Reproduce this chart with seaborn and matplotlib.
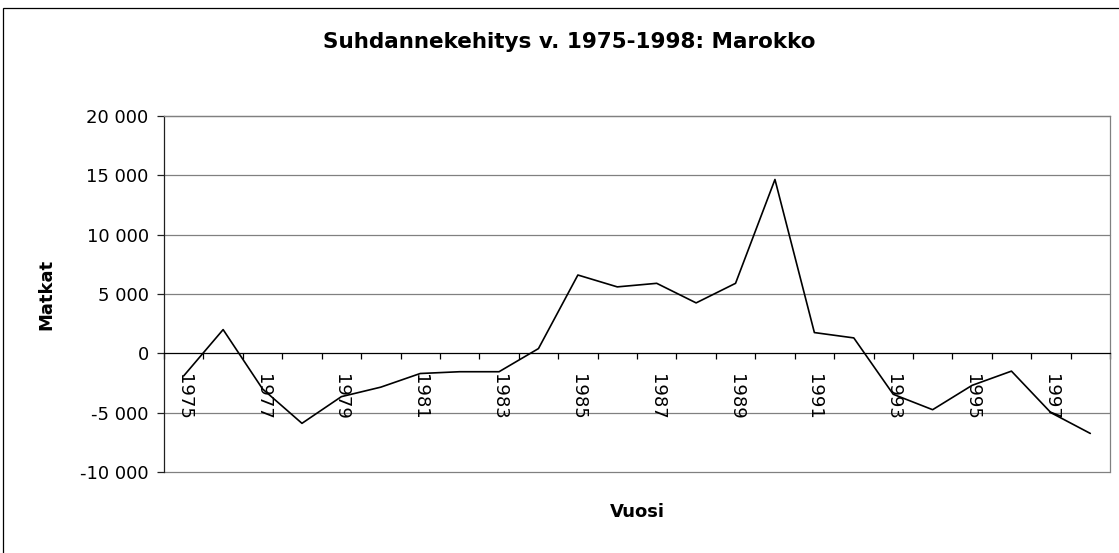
import matplotlib
import matplotlib.pyplot as plt
import seaborn as sns
from matplotlib.patches import Rectangle
from matplotlib.ticker import FixedLocator, FuncFormatter

matplotlib.use("Agg")

YEARS = list(range(1975, 1999))
MATKAT = [
    -1900, 2000, -3000, -5900, -3650, -2850, -1700, -1550, -1550, 400,
    6600, 5600, 5900, 4250, 5900, 14650, 1750, 1300, -3450, -4750,
    -2700, -1500, -5000, -6750,
]
Y_TICKS = [-10000, -5000, 0, 5000, 10000, 15000, 20000]

sns.set_style("white")
plt.rcParams["font.family"] = ["DejaVu Sans"]
plt.rcParams["text.color"] = "black"
plt.rcParams["xtick.color"] = "black"
plt.rcParams["ytick.color"] = "black"

W, H = 1119, 553
fig = plt.figure(figsize=(W / 100, H / 100), dpi=100)
ax = fig.add_axes([164 / W, 1 - 472 / H, (1110 - 164) / W, (472 - 116) / H])

pos = list(range(len(YEARS)))
sns.lineplot(x=pos, y=MATKAT, ax=ax, color="black", linewidth=1.2)

ax.set_xlim(-0.5, len(YEARS) - 0.5)
ax.set_ylim(Y_TICKS[0], Y_TICKS[-1])

# horizontal grid
ax.set_yticks(Y_TICKS)
ax.yaxis.set_major_formatter(FuncFormatter(lambda v, _: f"{v:,.0f}".replace(",", " ")))
for v in Y_TICKS:
    if v != 0:
        ax.axhline(v, color="#808080", linewidth=0.9, zorder=0, clip_on=False)

# category axis sits on the zero line
ax.spines["bottom"].set_position(("data", 0))
ax.spines["bottom"].set_color("black")
ax.spines["bottom"].set_linewidth(0.9)
ax.spines["left"].set_color("#202020")
ax.spines["left"].set_linewidth(0.9)
for s in ("top", "right"):
    ax.spines[s].set_color("#808080")
    ax.spines[s].set_linewidth(0.9)

ax.xaxis.set_major_locator(FixedLocator(pos[::2]))
ax.set_xticklabels([str(y) for y in YEARS[::2]])
ax.xaxis.set_minor_locator(FixedLocator([p - 0.5 for p in pos] + [pos[-1] + 0.5]))
ax.tick_params(axis="x", which="major", length=0, pad=15, labelsize=13,
               labelrotation=270, labelcolor="black")
ax.tick_params(axis="x", which="minor", length=4, width=0.9, direction="out",
               color="black", bottom=True)
for lab in ax.get_xticklabels():
    lab.set_va("top")
    lab.set_ha("center")
ax.tick_params(axis="y", length=5, width=0.9, direction="out", pad=6,
               labelsize=13, left=True, color="#202020", labelcolor="black")
ax.set_xlabel("")
ax.set_ylabel("")

fig.text(569 / W, 1 - 42 / H, "Suhdannekehitys v. 1975-1998: Marokko",
         ha="center", va="center", fontsize=15.5, fontweight="bold",
         color="black")
fig.text(46 / W, 1 - 294 / H, "Matkat", ha="center", va="center",
         rotation=90, fontsize=13, fontweight="bold", color="black")
fig.text(637 / W, 1 - 512 / H, "Vuosi", ha="center", va="center",
         fontsize=13, fontweight="bold", color="black")

# chart area border (runs off the right and bottom edges)
fig.patches.append(Rectangle((3 / W, -0.1), 1.2, 1 - 8 / H + 0.1,
                             transform=fig.transFigure, fill=False,
                             edgecolor="black", linewidth=0.9))

fig.savefig("out.png", dpi=100)
